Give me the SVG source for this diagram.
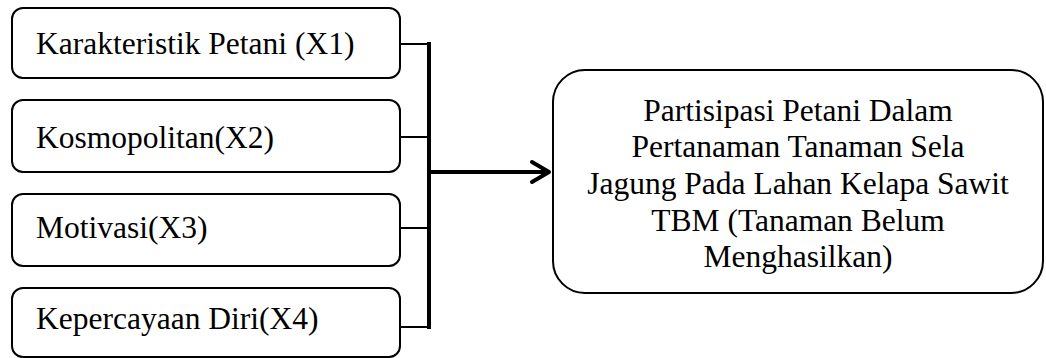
<svg xmlns="http://www.w3.org/2000/svg" width="1046" height="358" viewBox="0 0 1046 358">
<style>
.box{fill:#fff;stroke:#000;stroke-width:2}
.t{font-family:"Times New Roman",Times,"Liberation Serif",serif;font-size:31.5px;fill:#000}
.c{text-anchor:middle}
.thin{stroke:#000;stroke-width:2;fill:none}
.bus{stroke:#000;stroke-width:4;fill:none}
.head{fill:none;stroke:#000;stroke-width:4;stroke-linecap:round;stroke-linejoin:round}
</style>
<g id="connectors">
<line class="thin" x1="400" y1="44" x2="429" y2="44"/>
<line class="thin" x1="400" y1="137" x2="429" y2="137"/>
<line class="thin" x1="400" y1="228" x2="429" y2="228"/>
<line class="thin" x1="400" y1="327" x2="429" y2="327"/>
<line class="bus" x1="429" y1="42" x2="429" y2="329"/>
<line class="bus" x1="429" y1="172" x2="549" y2="172"/>
<path class="head" d="M532,162 L549,172 L532,182"/>
</g>
<g id="x1">
<rect class="box" x="12" y="8" width="388" height="70" rx="11"/>
<text class="t" x="36" y="54">Karakteristik Petani (X1)</text>
</g>
<g id="x2">
<rect class="box" x="12" y="100" width="388" height="72" rx="11"/>
<text class="t" x="36" y="148">Kosmopolitan(X2)</text>
</g>
<g id="x3">
<rect class="box" x="12" y="194" width="388" height="72" rx="11"/>
<text class="t" x="36" y="238">Motivasi(X3)</text>
</g>
<g id="x4">
<rect class="box" x="12" y="288" width="388" height="69" rx="11"/>
<text class="t" x="36" y="329">Kepercayaan Diri(X4)</text>
</g>
<g id="y">
<rect class="box" x="553" y="70" width="490" height="223" rx="32"/>
<text class="t c" x="798" y="121">Partisipasi Petani Dalam</text>
<text class="t c" x="798" y="157">Pertanaman Tanaman Sela</text>
<text class="t c" x="798" y="194">Jagung Pada Lahan Kelapa Sawit</text>
<text class="t c" x="798" y="231">TBM (Tanaman Belum</text>
<text class="t c" x="798" y="267">Menghasilkan)</text>
</g>
</svg>
